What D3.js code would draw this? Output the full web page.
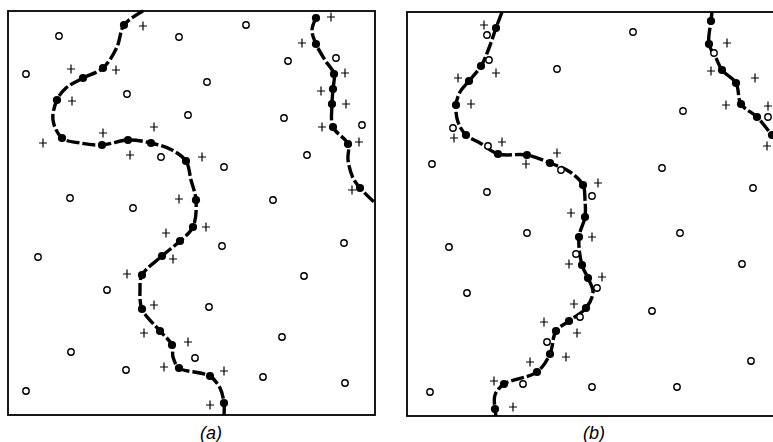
<!DOCTYPE html>
<html>
<head>
<meta charset="utf-8">
<script src="https://cdn.jsdelivr.net/npm/d3@7"></script>
<style>
  body { margin: 0; background: #fff; }
  svg { display: block; }
</style>
</head>
<body>
<svg id="fig" width="773" height="442"></svg>
<script>
// point positions, in figure units (no axes on the original)
var circlesA = [[59,36],[179,37],[246,25],[26,74],[127,94],[188,115],[207,82],[288,61],[336,58],[284,118],[362,125],
    [161,157],[224,167],[307,155],[70,198],[133,208],[273,200],[38,257],[222,246],[344,243],[107,290],[304,276],
    [209,307],[282,337],[71,352],[195,358],[126,370],[263,377],[345,383],[26,391]];
var plusesA = [[143,26],[71,69],[116,70],[72,101],[154,127],[103,133],[43,143],[130,155],[202,157],[179,199],
    [166,233],[206,227],[173,259],[127,274],[154,305],[144,333],[188,342],[164,367],[224,371],[210,405],
    [331,17],[302,43],[345,73],[321,91],[346,104],[322,127],[359,142],[352,190]];
var dotsA = [[124,25],[103,68],[83,78],[57,100],[62,138],[102,145],[128,140],[151,143],[186,161],[196,200],
    [193,227],[180,241],[162,256],[142,275],[142,309],[160,331],[172,345],[179,368],[210,376],[224,403],
    [316,18],[316,44],[334,74],[333,89],[332,104],[333,127],[348,144],[360,188]];
var curveA1 = [[143,11],[124,25],[117,47],[103,68],[83,78],[66,88],[57,100],[53,120],[62,138],[80,143],[102,145],
    [128,140],[151,143],[172,150],[186,161],[191,180],[196,200],[193,227],[180,241],[162,256],[142,275],[140,290],
    [142,309],[160,331],[172,345],[173,357],[179,368],[200,373],[210,376],[220,388],[224,403],[224,415]];
var curveA2 = [[316,18],[312,30],[316,44],[325,60],[334,74],[333,89],[332,104],[333,127],[348,144],[348,160],
    [353,178],[360,188],[375,203]];

var circlesB = [[487,35],[489,60],[557,69],[633,32],[683,111],[714,53],[768,117],[453,128],[488,146],[432,164],
    [561,170],[487,192],[662,168],[592,196],[753,188],[527,233],[449,247],[576,254],[680,233],[742,264],
    [597,288],[467,293],[652,311],[580,317],[547,342],[523,384],[430,392],[592,387],[677,387],[751,361]];
var plusesB = [[484,25],[496,73],[458,78],[471,104],[454,138],[502,142],[526,164],[557,153],[598,183],[571,213],
    [592,237],[569,264],[602,277],[574,304],[544,322],[577,333],[566,357],[530,362],[494,381],[513,407],
    [727,43],[711,71],[755,78],[726,105],[768,106],[767,146]];
var dotsB = [[496,28],[481,66],[469,81],[456,105],[466,135],[498,154],[527,155],[550,163],[583,185],[585,217],
    [579,237],[582,265],[588,278],[586,308],[569,321],[556,331],[550,354],[537,372],[504,384],[495,409],
    [711,21],[709,44],[722,70],[736,83],[741,104],[757,117],[772,135]];
var curveB1 = [[502,12],[496,28],[489,48],[481,66],[469,81],[460,92],[456,105],[458,122],[466,135],[480,143],
    [498,154],[527,155],[550,163],[570,172],[583,185],[585,200],[585,217],[579,237],[582,265],[588,278],[593,292],
    [586,308],[569,321],[556,331],[550,354],[537,372],[504,384],[495,395],[495,409],[496,416]];
var curveB2 = [[712,12],[711,21],[709,44],[716,58],[722,70],[736,83],[741,104],[757,117],[772,135],[785,150]];

var panels = [
    { label: '(a)', frame: [8, 11, 375, 415], lx: 211, circles: circlesA, pluses: plusesA, dots: dotsA, curves: [curveA1, curveA2] },
    { label: '(b)', frame: [407, 12, 776, 416], lx: 594, circles: circlesB, pluses: plusesB, dots: dotsB, curves: [curveB1, curveB2] }
];

var svg = d3.select('#fig');

panels.forEach(function(p) {
    var f = p.frame;
    var x = d3.scaleLinear().domain([f[0], f[2]]).range([f[0], f[2]]);
    var y = d3.scaleLinear().domain([f[1], f[3]]).range([f[1], f[3]]);
    var g = svg.append('g');

    g.append('rect')
        .attr('x', x(f[0])).attr('y', y(f[1]))
        .attr('width', x(f[2]) - x(f[0])).attr('height', y(f[3]) - y(f[1]))
        .attr('fill', 'none').attr('stroke', '#000').attr('stroke-width', 1.8);

    var line = d3.line()
        .x(function(d) { return x(d[0]); })
        .y(function(d) { return y(d[1]); })
        .curve(d3.curveCatmullRom.alpha(0.5));

    g.selectAll('path.curve').data(p.curves).enter().append('path')
        .attr('class', 'curve')
        .attr('d', line)
        .attr('fill', 'none')
        .attr('stroke', '#000')
        .attr('stroke-width', 3.4)
        .attr('stroke-dasharray', '13,3');

    g.selectAll('circle.open').data(p.circles).enter().append('circle')
        .attr('class', 'open')
        .attr('cx', function(d) { return x(d[0]); })
        .attr('cy', function(d) { return y(d[1]); })
        .attr('r', 3.2)
        .attr('fill', '#fff').attr('stroke', '#000').attr('stroke-width', 1.4);

    g.selectAll('path.plus').data(p.pluses).enter().append('path')
        .attr('class', 'plus')
        .attr('d', function(d) {
            var cx = x(d[0]), cy = y(d[1]);
            return 'M' + (cx - 4) + ',' + cy + 'H' + (cx + 4) + 'M' + cx + ',' + (cy - 4.5) + 'V' + (cy + 4.5);
        })
        .attr('stroke', '#000').attr('stroke-width', 1.2);

    g.selectAll('circle.dot').data(p.dots).enter().append('circle')
        .attr('class', 'dot')
        .attr('cx', function(d) { return x(d[0]); })
        .attr('cy', function(d) { return y(d[1]); })
        .attr('r', 4.1)
        .attr('fill', '#000');

    g.append('text')
        .attr('x', p.lx).attr('y', 439)
        .attr('text-anchor', 'middle')
        .style('font-family', 'Liberation Sans, Arial, sans-serif')
        .style('font-style', 'italic')
        .style('font-size', '18px')
        .attr('fill', '#000')
        .text(p.label);
});
</script>
</body>
</html>
